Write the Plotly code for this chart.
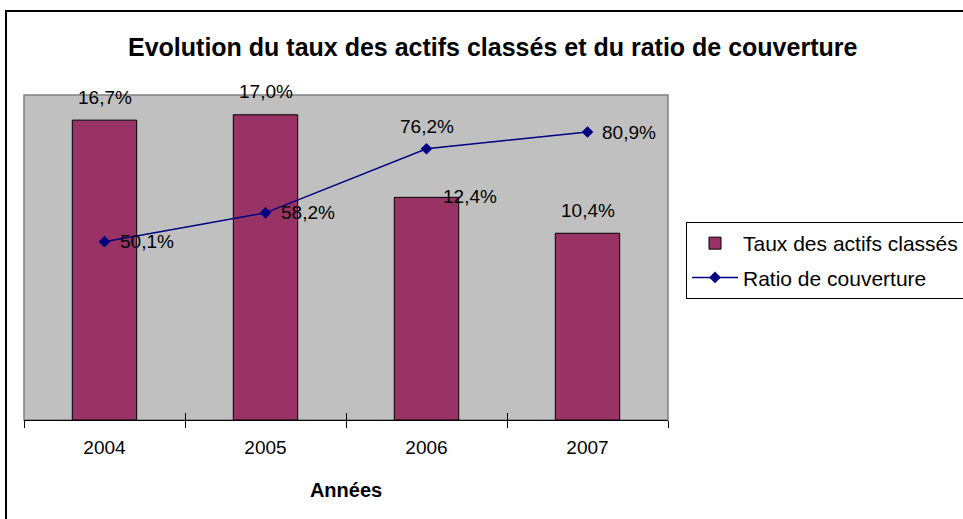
import plotly.graph_objects as go

annees = ["2004", "2005", "2006", "2007"]
taux_actifs = [0.167, 0.170, 0.124, 0.104]
ratio_couverture = [0.501, 0.582, 0.762, 0.809]

def fr(v):
    return f"{v*100:.1f}%".replace(".", ",")

W, H = 963, 519
L, R, T, B = 24, 963 - 668, 95, 519 - 420
pw, ph = W - L - R, H - T - B
FONT = "Liberation Sans, Arial, sans-serif"

# inner halves of the crossing ticks between categories
inner_ticks = [i + 0.5 for i in range(len(annees) - 1)]

fig = go.Figure()
fig.add_trace(go.Bar(
    x=annees, y=taux_actifs, name="Taux des actifs classés",
    marker=dict(color="#993366", line=dict(color="black", width=1)),
    width=0.4, legendgroup="a", yaxis="y"))
fig.add_trace(go.Scatter(
    x=annees, y=ratio_couverture, name="Ratio de couverture",
    mode="lines+markers", line=dict(color="#000080", width=1.5),
    marker=dict(symbol="diamond", size=9, color="#000080"),
    legendgroup="b", yaxis="y2"))
# invisible helper trace so that the tick-only overlay axis gets drawn
fig.add_trace(go.Scatter(
    x=inner_ticks, y=[0] * len(inner_ticks), mode="markers",
    marker=dict(opacity=0), xaxis="x2", yaxis="y",
    showlegend=False, hoverinfo="skip"))

# data labels (pixel offsets relative to the data points)
bar_offsets = [(0, 23), (0, 23), (43, 1), (0, 23)]
line_offsets = [(42, 0), (42, 0), (0, 22), (41, 0)]
for i, (v, (dx, dy)) in enumerate(zip(taux_actifs, bar_offsets)):
    fig.add_annotation(x=i, y=v, xref="x", yref="y", text=fr(v), showarrow=False,
                       xanchor="center", yanchor="middle",
                       xshift=dx, yshift=dy, font=dict(family=FONT, size=19, color="black"))
for i, (v, (dx, dy)) in enumerate(zip(ratio_couverture, line_offsets)):
    fig.add_annotation(x=i, y=v, xref="x", yref="y2", text=fr(v), showarrow=False,
                       xanchor="center", yanchor="middle",
                       xshift=dx, yshift=dy, font=dict(family=FONT, size=19, color="black"))

def px_x(p):
    return (p - L) / pw

def px_y(p):
    return (H - B - p) / ph

# title
fig.add_annotation(x=px_x(492), y=px_y(47), xref="paper", yref="paper",
                   xanchor="center", yanchor="middle",
                   text="<b>Evolution du taux des actifs classés et du ratio de couverture</b>",
                   showarrow=False, font=dict(family=FONT, size=25, color="black"))

shapes = [
    dict(type="rect", xref="paper", yref="paper", x0=0, x1=1, y0=0, y1=1,
         line=dict(color="#808080", width=1.5), layer="below"),
    dict(type="rect", xref="paper", yref="paper", x0=px_x(6), x1=px_x(975), y0=px_y(11), y1=px_y(530),
         line=dict(color="black", width=2)),
]

fig.update_layout(
    width=W, height=H,
    margin=dict(l=L, r=R, t=T, b=B, autoexpand=False),
    paper_bgcolor="white", plot_bgcolor="#C0C0C0",
    font=dict(family=FONT, size=19, color="black"),
    showlegend=True,
    legend=dict(x=px_x(686), y=px_y(222), xanchor="left", yanchor="top",
                bordercolor="black", borderwidth=1, bgcolor="white",
                font=dict(family=FONT, size=21), traceorder="grouped",
                tracegroupgap=4, itemwidth=46),
    xaxis=dict(type="category", range=[-0.5, 3.5], showgrid=False,
               showline=True, linecolor="black", linewidth=1,
               ticks="outside", tickson="boundaries", ticklen=7, tickcolor="black",
               ticklabelstandoff=10,
               tickfont=dict(family=FONT, size=19),
               title=dict(text="<b>Années</b>", font=dict(family=FONT, size=20), standoff=26)),
    xaxis2=dict(overlaying="x", side="bottom", type="linear", range=[-0.5, 3.5],
                tickmode="array", tickvals=inner_ticks, ticks="inside", ticklen=7,
                tickcolor="black", showticklabels=False, showgrid=False,
                showline=False, zeroline=False),
    yaxis=dict(range=[0, 0.181], showgrid=False, showticklabels=False, zeroline=False,
               showline=False, ticks=""),
    yaxis2=dict(range=[0, 0.913], overlaying="y", side="right", showgrid=False,
                showticklabels=False, zeroline=False, showline=False, ticks=""),
    shapes=shapes,
    bargap=0.6,
)

fig.write_html("out.html", config={"displayModeBar": False},
               post_script="document.body.style.margin='0';")
